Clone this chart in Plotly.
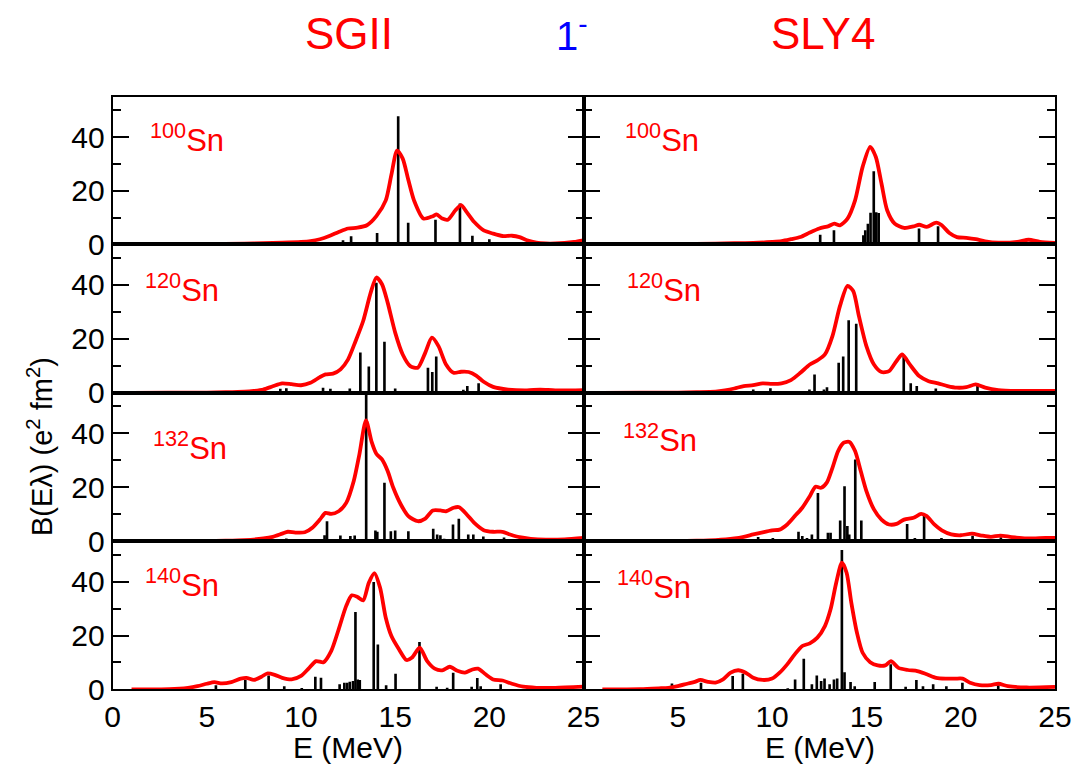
import plotly.graph_objects as go

# ---------------- data ----------------
nuclei = ["100", "120", "132", "140"]

# SGII discrete strengths (E in MeV, B in e^2 fm^2)
sgii_100_bar_e = [11.8, 12.23, 12.66, 13.15, 14.04, 14.43, 15.16, 15.69, 17.14, 17.55, 18.2, 18.44, 18.7, 19.1, 20.0, 21.3, 21.8]
sgii_100_bar_b = [0.6, 1.5, 3.0, 0.6, 4.2, 0.7, 47.8, 8.0, 9.2, 0.5, 0.6, 15.2, 0.9, 3.2, 1.9, 0.7, 0.5]
sgii_120_bar_e = [8.9, 9.22, 9.6, 11.17, 11.56, 12.59, 13.15, 13.6, 14.0, 14.43, 15.0, 16.5, 16.74, 16.97, 17.18, 18.62, 18.83, 19.43]
sgii_120_bar_b = [1.5, 1.7, 0.6, 1.9, 1.5, 1.6, 14.9, 9.7, 40.8, 18.9, 1.6, 0.6, 9.3, 7.7, 13.4, 1.1, 2.5, 3.5]
sgii_132_bar_e = [9.22, 11.25, 11.38, 12.09, 12.62, 12.85, 13.46, 13.95, 14.05, 14.43, 14.77, 15.0, 15.7, 17.02, 17.23, 17.4, 17.6, 18.07, 18.38, 18.88, 19.15, 19.68, 20.78]
sgii_132_bar_b = [1.0, 2.2, 7.4, 2.1, 1.9, 2.1, 58.0, 4.0, 3.5, 21.7, 3.7, 4.0, 3.7, 4.6, 2.5, 2.2, 0.9, 6.2, 8.3, 2.5, 2.5, 1.7, 1.4]
sgii_140_bar_e = [5.48, 7.04, 8.28, 9.11, 10.04, 10.76, 11.06, 12.05, 12.3, 12.45, 12.59, 12.76, 12.89, 13.01, 13.12, 13.86, 14.08, 14.52, 15.02, 16.29, 17.2, 17.76, 18.08, 19.06, 19.36, 19.54, 20.6]
sgii_140_bar_b = [1.5, 3.6, 5.2, 1.2, 0.5, 4.7, 4.3, 1.9, 2.5, 2.5, 2.8, 3.1, 28.7, 3.7, 3.5, 39.9, 16.7, 1.5, 5.8, 17.6, 1.0, 0.6, 6.2, 1.0, 4.2, 1.2, 1.9]

# SLY4 discrete strengths
sly4_100_bar_e = [12.55, 13.28, 13.78, 14.84, 14.94, 15.08, 15.22, 15.39, 15.52, 15.65, 17.0, 17.79, 18.8, 19.2, 20.5, 23.6]
sly4_100_bar_b = [3.6, 5.2, 0.2, 3.4, 5.2, 7.7, 11.8, 27.3, 12.0, 11.7, 0.7, 5.9, 6.7, 0.6, 0.4, 0.9]
sly4_120_bar_e = [9.0, 9.91, 11.98, 12.25, 12.75, 12.91, 13.53, 13.77, 14.06, 14.46, 16.2, 16.98, 17.35, 17.67, 18.68, 20.89]
sly4_120_bar_b = [1.2, 1.7, 1.2, 6.8, 1.2, 2.1, 11.1, 13.4, 26.9, 25.6, 0.6, 13.9, 3.5, 2.5, 1.6, 2.5]
sly4_132_bar_e = [9.26, 10.04, 11.4, 11.6, 11.85, 12.11, 12.43, 12.96, 13.1, 13.61, 13.84, 13.99, 14.09, 14.41, 14.73, 15.6, 17.16, 17.57, 18.06, 18.98, 20.63, 22.13]
sly4_132_bar_b = [1.6, 1.2, 3.5, 1.9, 1.2, 2.5, 17.9, 3.1, 3.1, 7.7, 20.4, 5.6, 2.5, 30.3, 7.7, 0.6, 6.4, 1.2, 9.9, 1.2, 2.0, 1.5]
sly4_140_bar_e = [4.69, 6.23, 7.91, 8.45, 10.83, 11.22, 11.68, 12.11, 12.37, 12.6, 12.78, 13.05, 13.28, 13.45, 13.7, 13.84, 14.16, 14.38, 15.44, 16.29, 17.08, 17.65, 18.0, 18.54, 19.24, 20.09, 21.99]
sly4_140_bar_b = [2.2, 2.5, 5.0, 5.8, 0.4, 3.7, 11.4, 1.9, 5.2, 3.1, 4.0, 1.9, 3.7, 4.0, 51.7, 6.4, 2.7, 1.2, 2.7, 9.3, 1.0, 3.5, 1.2, 1.9, 1.2, 2.5, 1.5]

# SGII folded strength curves
sgii_100_cur_e = [1, 3, 5, 7, 8, 9, 10, 10.5, 11, 11.5, 12, 12.5, 13, 13.5, 14, 14.5, 14.8, 15.1, 15.4, 15.7, 16, 16.5, 17, 17.2, 17.5, 17.8, 18.2, 18.5, 18.8, 19.2, 19.7, 20.2, 20.7, 21.2, 21.6, 22, 22.5, 23, 23.5, 24, 24.5, 25]
sgii_100_cur_b = [0.0, 0.05, 0.1, 0.25, 0.4, 0.6, 0.9, 1.2, 1.9, 3.1, 4.6, 5.9, 6.2, 7.1, 10.5, 16.4, 26.0, 35.0, 32.0, 24.0, 16.4, 9.6, 10.5, 11.2, 9.6, 9.2, 12.7, 14.6, 12.0, 8.3, 5.2, 4.0, 3.1, 3.2, 2.7, 1.5, 0.6, 0.3, 0.3, 0.5, 0.9, 1.5]
sgii_120_cur_e = [1, 3, 5, 6, 7, 7.5, 8, 8.5, 9, 9.5, 10, 10.5, 11, 11.3, 11.7, 12.1, 12.5, 12.9, 13.3, 13.7, 14.0, 14.3, 14.6, 15, 15.4, 15.8, 16.2, 16.6, 16.95, 17.3, 17.7, 18.1, 18.5, 18.9, 19.3, 19.7, 20.2, 21, 22, 22.7, 23.5, 25]
sgii_120_cur_b = [0, 0.05, 0.1, 0.2, 0.4, 0.7, 1.2, 2.4, 3.5, 3.2, 2.8, 3.7, 5.8, 6.8, 7.1, 8.7, 12.4, 19.2, 26.6, 37.1, 42.7, 40.2, 33.4, 22.3, 14.2, 9.9, 9.3, 14.9, 20.4, 17.3, 10.5, 7.4, 7.8, 7.7, 6.4, 4.1, 2.2, 1.2, 0.9, 1.2, 0.9, 1.0]
sgii_132_cur_e = [1, 3, 5, 6, 7, 8, 8.5, 9, 9.3, 9.7, 10.2, 10.6, 11, 11.3, 11.6, 12, 12.4, 12.8, 13.1, 13.45, 13.75, 14.0, 14.3, 14.6, 14.9, 15.3, 15.7, 16.2, 16.6, 17, 17.4, 17.7, 18.1, 18.4, 18.8, 19.2, 19.7, 20.2, 20.7, 21.1, 21.6, 22.2, 23, 24, 25]
sgii_132_cur_b = [0, 0.05, 0.1, 0.2, 0.4, 1.0, 1.6, 2.8, 3.5, 3.2, 3.3, 5.0, 8.0, 10.5, 10.1, 11.1, 14.2, 22.3, 32.2, 44.8, 36.8, 32.4, 30.3, 26.0, 19.8, 13.6, 9.3, 7.4, 8.4, 11.4, 11.4, 11.1, 12.4, 12.6, 9.9, 6.8, 4.1, 3.5, 3.5, 2.5, 1.5, 0.9, 0.6, 0.7, 1.2]
sgii_140_cur_e = [1, 3, 4, 4.5, 5, 5.4, 5.8, 6.3, 6.8, 7.1, 7.5, 7.9, 8.2, 8.6, 9, 9.5, 10, 10.4, 10.8, 11.2, 11.6, 12, 12.4, 12.7, 13.0, 13.3, 13.6, 13.9, 14.2, 14.5, 14.8, 15.2, 15.6, 15.9, 16.3, 16.7, 17.1, 17.5, 17.9, 18.3, 18.7, 19.1, 19.4, 19.8, 20.2, 20.7, 21.2, 21.8, 22.5, 23.5, 25]
sgii_140_cur_b = [0, 0.1, 0.6, 1.2, 2.1, 2.7, 2.2, 2.7, 4.0, 4.3, 3.5, 4.7, 5.9, 5.4, 4.3, 3.7, 5.0, 7.7, 10.5, 10.1, 14.2, 22.3, 31.0, 34.9, 34.3, 33.0, 39.6, 43.1, 37.7, 26.6, 19.8, 14.9, 10.9, 11.8, 15.5, 10.5, 7.7, 7.1, 8.4, 6.9, 6.2, 7.4, 7.7, 5.6, 3.7, 3.3, 2.1, 1.0, 0.6, 0.6, 1.0]

# SLY4 folded strength curves
sly4_100_cur_e = [1, 3, 5, 7, 8, 9, 10, 10.5, 11, 11.5, 12, 12.5, 13, 13.3, 13.6, 14, 14.4, 14.8, 15.2, 15.5, 15.8, 16.1, 16.5, 17, 17.5, 17.8, 18.2, 18.7, 19, 19.4, 19.8, 20.3, 20.8, 21.3, 22, 23, 23.6, 24.2, 25]
sly4_100_cur_b = [0, 0.05, 0.1, 0.25, 0.4, 0.5, 0.9, 1.2, 1.9, 2.7, 4.4, 5.9, 6.8, 7.7, 7.1, 9.6, 16.4, 28.9, 36.4, 32.6, 22.7, 12.7, 7.7, 6.1, 6.7, 7.3, 6.5, 8.1, 7.1, 4.2, 2.7, 2.4, 1.9, 1.1, 0.6, 0.9, 1.7, 0.9, 0.5]
sly4_120_cur_e = [1, 3, 5, 6, 7, 7.5, 8, 8.5, 9, 9.5, 10, 10.5, 11, 11.5, 12, 12.4, 12.8, 13.2, 13.6, 14.0, 14.3, 14.6, 15.0, 15.4, 15.8, 16.2, 16.6, 16.9, 17.3, 17.8, 18.3, 18.8, 19.3, 19.8, 20.3, 20.8, 21.3, 22, 23, 25]
sly4_120_cur_b = [0, 0.05, 0.1, 0.2, 0.4, 0.9, 1.6, 2.5, 2.8, 3.5, 3.3, 3.5, 4.7, 7.4, 10.5, 12.0, 14.2, 21.0, 32.2, 39.6, 37.7, 28.5, 17.3, 10.5, 7.7, 8.0, 11.8, 14.2, 10.5, 6.2, 4.3, 3.5, 2.5, 1.9, 2.1, 3.1, 1.9, 1.0, 0.7, 0.7]
sly4_132_cur_e = [1, 3, 5, 6, 7, 8, 8.5, 9, 9.5, 10, 10.4, 10.8, 11.2, 11.6, 12, 12.3, 12.6, 12.9, 13.2, 13.5, 13.8, 14.1, 14.4, 14.7, 15.0, 15.4, 15.8, 16.2, 16.6, 17, 17.5, 17.9, 18.2, 18.6, 19.0, 19.5, 20, 20.6, 21.1, 21.6, 22.1, 22.7, 23.5, 24.5, 25]
sly4_132_cur_b = [0, 0.05, 0.1, 0.2, 0.4, 1.0, 1.6, 2.5, 3.3, 4.0, 4.3, 6.2, 9.3, 12.4, 16.7, 20.2, 19.8, 21.7, 27.2, 33.4, 36.5, 36.8, 33.4, 26.0, 18.6, 11.8, 8.0, 6.2, 6.4, 8.0, 8.7, 10.1, 9.3, 6.2, 4.0, 2.5, 2.2, 2.8, 2.1, 1.6, 2.1, 1.5, 1.0, 1.2, 1.2]
sly4_140_cur_e = [1, 3, 4, 4.5, 5, 5.5, 5.9, 6.2, 6.6, 7, 7.4, 7.8, 8.2, 8.6, 9, 9.5, 10, 10.4, 10.8, 11.2, 11.6, 12, 12.4, 12.8, 13.1, 13.4, 13.7, 13.95, 14.2, 14.5, 14.8, 15.2, 15.6, 16.0, 16.3, 16.7, 17.2, 17.7, 18.2, 18.7, 19.2, 19.7, 20.1, 20.5, 21.0, 21.6, 22, 22.5, 23.5, 25]
sly4_140_cur_b = [0, 0.1, 0.4, 0.6, 1.2, 2.1, 2.8, 3.5, 2.8, 2.5, 3.7, 6.2, 7.1, 6.2, 4.3, 3.5, 4.0, 6.2, 9.3, 13.0, 16.1, 17.1, 19.2, 23.5, 29.7, 39.6, 47.0, 43.3, 32.2, 21.0, 13.6, 10.1, 8.9, 8.9, 10.5, 8.0, 7.2, 6.8, 5.6, 4.3, 4.0, 4.0, 4.0, 2.5, 1.6, 1.6, 2.1, 1.2, 0.7, 0.9]

y_tick_vals = [0, 20, 40]
y_minor_vals = [10, 30, 50]
x_tick_vals_left = [0, 5, 10, 15, 20, 25]
x_tick_vals_right = [5, 10, 15, 20, 25]

# ---------------- layout helpers ----------------
W, H = 1076, 767
def fx(p): return p / W
def fy(p): return 1 - p / H

col_px = [(112.7, 583.5), (583.5, 1055.0)]
row_px = [(97.0, 244.3), (244.3, 392.8), (392.8, 541.2), (541.2, 689.4)]
label_px = [[(148, 138), (623, 138)], [(143, 288), (625, 288)], [(151, 446), (621, 438)], [(143, 583), (615, 585)]]

panels = [
    [(sgii_100_bar_e, sgii_100_bar_b, sgii_100_cur_e, sgii_100_cur_b), (sly4_100_bar_e, sly4_100_bar_b, sly4_100_cur_e, sly4_100_cur_b)],
    [(sgii_120_bar_e, sgii_120_bar_b, sgii_120_cur_e, sgii_120_cur_b), (sly4_120_bar_e, sly4_120_bar_b, sly4_120_cur_e, sly4_120_cur_b)],
    [(sgii_132_bar_e, sgii_132_bar_b, sgii_132_cur_e, sgii_132_cur_b), (sly4_132_bar_e, sly4_132_bar_b, sly4_132_cur_e, sly4_132_cur_b)],
    [(sgii_140_bar_e, sgii_140_bar_b, sgii_140_cur_e, sgii_140_cur_b), (sly4_140_bar_e, sly4_140_bar_b, sly4_140_cur_e, sly4_140_cur_b)],
]

FONT = "Liberation Sans, Arial, Helvetica, sans-serif"
fig = go.Figure()
layout = dict(template="none", width=W, height=H, margin=dict(l=0, r=0, t=0, b=0, pad=0, autoexpand=False),
              paper_bgcolor="white", plot_bgcolor="white", showlegend=False,
              barmode="overlay", font=dict(family=FONT, color="black"))
annotations = []

idx = 0
for r in range(4):
    for c in range(2):
        idx += 1
        be, bb, ce, cb = panels[r][c]
        xa = "x" if idx == 1 else f"x{idx}"
        ya = "y" if idx == 1 else f"y{idx}"
        fig.add_trace(go.Bar(x=be, y=bb, width=0.14, marker=dict(color="black", line=dict(width=0)),
                             xaxis=xa, yaxis=ya, hoverinfo="x+y"))
        fig.add_trace(go.Scatter(x=ce, y=cb, mode="lines",
                                 line=dict(color="#ff0000", width=3.8, shape="spline", smoothing=0.7),
                                 xaxis=xa, yaxis=ya))
        bottom = (r == 3)
        layout[f"xaxis{idx}"] = dict(
            domain=[fx(col_px[c][0]), fx(col_px[c][1])], range=[0, 25], anchor=ya,
            automargin=False,
            showline=True, linecolor="black", linewidth=2, mirror=True,
            ticks="", showgrid=False, zeroline=False,
            showticklabels=bottom,
            tickmode="array", tickvals=(x_tick_vals_left if c == 0 else x_tick_vals_right),
            tickfont=dict(size=30, family=FONT, color="black"), ticklabelstandoff=0,
        )
        layout[f"yaxis{idx}"] = dict(
            domain=[fy(row_px[r][1]), fy(row_px[r][0])], range=[0, 55], anchor=xa,
            automargin=False,
            showline=True, linecolor="black", linewidth=2, mirror="allticks",
            ticks="inside", ticklen=16, tickwidth=2, tickcolor="black",
            tickmode="array", tickvals=y_tick_vals,
            minor=dict(tickmode="array", tickvals=y_minor_vals, ticks="inside", ticklen=8, tickwidth=2, tickcolor="black"),
            showgrid=False, zeroline=False,
            showticklabels=(c == 0),
            tickfont=dict(size=30, family=FONT, color="black"), ticklabelstandoff=0,
        )
        lx, ly = label_px[r][c]
        annotations.append(dict(x=fx(lx), y=fy(ly), xref="paper", yref="paper",
                                xanchor="left", yanchor="middle", showarrow=False,
                                text=f"<sup>{nuclei[r]}</sup>Sn",
                                font=dict(size=31, color="#ff0000", family=FONT)))

# titles
common = dict(xref="paper", yref="paper", showarrow=False, xanchor="center", yanchor="middle")
annotations += [
    dict(x=fx(349), y=fy(33), text="SGII", font=dict(size=44, color="#ff0000", family=FONT), **common),
    dict(x=fx(572), y=fy(33), text="1<sup>-</sup>", font=dict(size=40, color="#0000ff", family=FONT), **common),
    dict(x=fx(823), y=fy(33), text="SLY4", font=dict(size=44, color="#ff0000", family=FONT), **common),
    dict(x=fx(348), y=fy(747), text="E (MeV)", font=dict(size=30, color="black", family=FONT), **common),
    dict(x=fx(820), y=fy(747), text="E (MeV)", font=dict(size=30, color="black", family=FONT), **common),
    dict(x=fx(40), y=fy(447), textangle=-90, text="B(E\u03bb) (e<sup>2</sup> fm<sup>2</sup>)",
         font=dict(size=29, color="black", family=FONT), **common),
]
layout["annotations"] = annotations
fig.update_layout(**layout)
fig.write_html("out.html")
